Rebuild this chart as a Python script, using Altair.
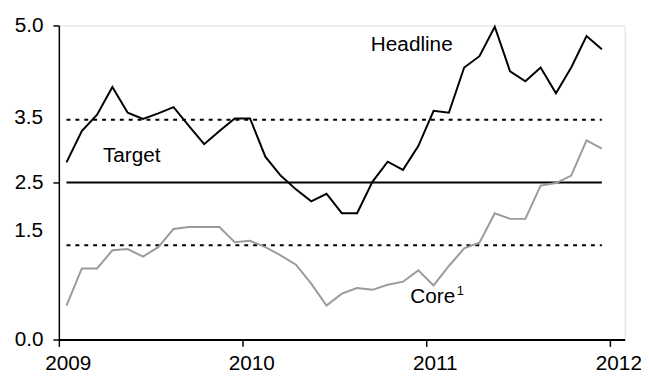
import altair as alt
import pandas as pd

years = [2009, 2010, 2011]
headline = [2.82, 3.32, 3.58, 4.02, 3.61, 3.51, 3.60, 3.70, 3.40, 3.11, 3.32, 3.52,
            3.52, 2.91, 2.61, 2.39, 2.20, 2.32, 2.01, 2.01, 2.51, 2.83, 2.70, 3.08,
            3.64, 3.61, 4.33, 4.51, 4.98, 4.27, 4.11, 4.33, 3.92, 4.33, 4.83, 4.62]
core = [0.54, 1.13, 1.13, 1.42, 1.44, 1.32, 1.47, 1.76, 1.79, 1.79, 1.79, 1.55,
        1.57, 1.47, 1.34, 1.19, 0.89, 0.54, 0.73, 0.82, 0.79, 0.87, 0.92, 1.10,
        0.86, 1.17, 1.45, 1.54, 2.01, 1.92, 1.92, 2.45, 2.49, 2.61, 3.17, 3.04]
target = [2.5]
bounds = [1.5, 3.5]
y_ticks = [0.0, 2.5, 5.0]
x_ticks = [2009, 2010, 2011, 2012]

FONT = "Liberation Sans"
t = [y + (m - 0.5) / 12 for y in years for m in range(1, 13)]

df = pd.DataFrame({"t": t * 2, "v": headline + core,
                   "s": ["Headline"] * len(headline) + ["Core"] * len(core)})

xscale = alt.Scale(domain=[2009, 2012.083], nice=False, zero=False)
yscale = alt.Scale(domain=[0, 5], nice=False, zero=True)
xaxis = alt.Axis(values=x_ticks, format="d", title=None, grid=False, tickSize=7,
                 labelPadding=6, domainWidth=2, tickWidth=1.5, labelOffset=9,
                 labelFlush=False, labelOverlap=False,
                 domainColor="black", tickColor="black", labelColor="black",
                 labelFont=FONT, labelFontSize=21)
yaxis = alt.Axis(values=y_ticks, format=".1f", title=None, grid=False, tickSize=6,
                 labelPadding=10, domainWidth=1.5, tickWidth=1.5, labelFlush=False,
                 domainColor="black", tickColor="black", labelColor="black",
                 labelFont=FONT, labelFontSize=21)


def X(f):
    return alt.X(f, type="quantitative", scale=xscale, axis=xaxis)


def Y(f):
    return alt.Y(f, type="quantitative", scale=yscale, axis=yaxis)


dash_df = pd.DataFrame({"y": bounds, "x": [t[0]] * 2, "x2": [t[-1]] * 2})
tgt_df = pd.DataFrame({"y": target, "x": [t[0]], "x2": [t[-1]]})

dashed = alt.Chart(dash_df).mark_rule(strokeDash=[4, 5], strokeWidth=2, color="black").encode(
    x=X("x"), x2="x2", y=Y("y"))
solid = alt.Chart(tgt_df).mark_rule(strokeWidth=2, color="black").encode(
    x=X("x"), x2="x2", y=Y("y"))

lines = alt.Chart(df).mark_line(strokeWidth=2).encode(
    x=X("t"), y=Y("v"),
    color=alt.Color("s:N", scale=alt.Scale(domain=["Headline", "Core"],
                                          range=["#000000", "#9b9b9b"]), legend=None),
    order=alt.Order("t:Q"))

lab_df = pd.DataFrame({"x": [2010.70, 2009.240, 2010.915],
                       "y": [4.69, 2.92, 0.58],
                       "txt": ["Headline", "Target", "Core"]})
labels_mid = alt.Chart(lab_df.iloc[:2]).mark_text(
    font=FONT, fontSize=21, align="left", baseline="middle", color="black").encode(
    x=X("x"), y=Y("y"), text="txt:N")
labels_core = alt.Chart(lab_df.iloc[2:]).mark_text(
    font=FONT, fontSize=21, align="left", baseline="alphabetic", color="black").encode(
    x=X("x"), y=Y("y"), text="txt:N")
sup = alt.Chart(pd.DataFrame({"x": [2010.915], "y": [0.58], "txt": ["1"]})).mark_text(
    font=FONT, fontSize=13, align="left", baseline="alphabetic", dx=47, dy=-8,
    color="black").encode(x=X("x"), y=Y("y"), text="txt:N")

ylab_df = pd.DataFrame({"y": [3.52, 1.72], "txt": ["3.5", "1.5"]})
ylabs = alt.Chart(ylab_df).mark_text(font=FONT, fontSize=21, align="right",
                                     baseline="middle", color="black").encode(
    x=alt.value(-16), y=Y("y"), text="txt:N")

chart = alt.layer(dashed, solid, lines, labels_mid, labels_core, sup, ylabs).properties(
    width=573, height=318,
    autosize=alt.AutoSizeParams(type="none"),
    padding={"left": 51.5, "top": 15.3, "right": 16.5, "bottom": 40},
).configure_view(stroke=None).configure(background="white")

chart.save("out.html", embed_options={"renderer": "svg", "actions": False})
